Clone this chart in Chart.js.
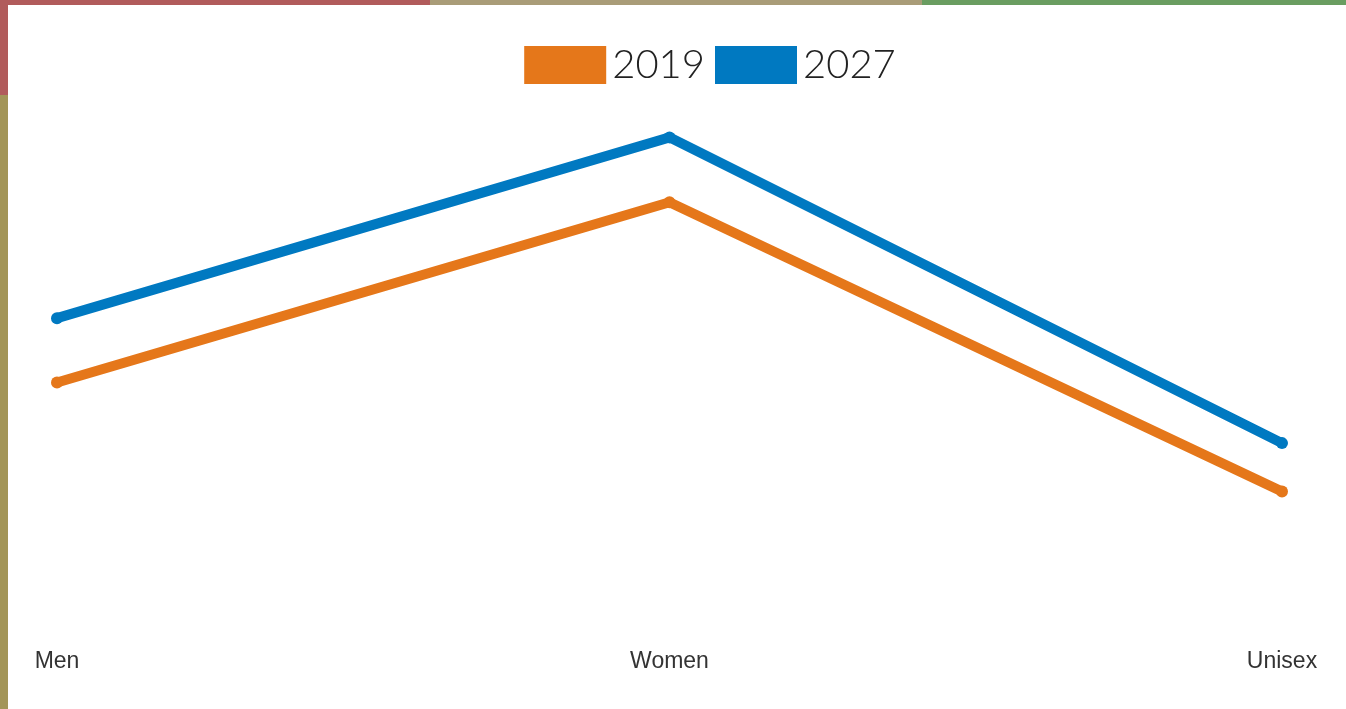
<!DOCTYPE html>
<html>
<head>
<meta charset="utf-8">
<script src="https://cdn.jsdelivr.net/npm/chart.js@4/dist/chart.umd.min.js"></script>
<style>
    body { margin: 0; background: #fff; overflow: hidden; }
    #wrap { position: relative; width: 1346px; height: 709px; }
    .edge { position: absolute; }
</style>
</head>
<body>
<div id="wrap">
    <canvas id="segmentChart" width="1346" height="709"></canvas>
    <!-- coloured frame strips -->
    <div class="edge" style="left:0;top:0;width:430px;height:5px;background:#b15b5b"></div>
    <div class="edge" style="left:430px;top:0;width:492px;height:5px;background:#a99c78"></div>
    <div class="edge" style="left:922px;top:0;width:424px;height:5px;background:#6a9d61"></div>
    <div class="edge" style="left:0;top:0;width:8px;height:95px;background:#b15b5b"></div>
    <div class="edge" style="left:0;top:95px;width:8px;height:614px;background:#a39558"></div>
</div>
<script>
const categories = ["Men", "Women", "Unisex"];
const seriesNames = ["2019", "2027"];
const values2019 = [46.4, 80.0, 26.1];
const values2027 = [58.4, 92.1, 35.1];

// push the legend to the right, like the original
const legendShift = {
    id: "legendShift",
    afterLayout(chart) {
        chart.legend.left += 47.5;
        chart.legend.right += 47.5;
    }
};

const ctx = document.getElementById("segmentChart").getContext("2d");

new Chart(ctx, {
    type: "line",
    data: {
        labels: categories,
        datasets: [{
            label: seriesNames[0],
            data: values2019,
            borderColor: "#e5771a",
            backgroundColor: "#e5771a",
            borderWidth: 10,
            pointRadius: 6,
            pointBorderWidth: 0,
            tension: 0
        }, {
            label: seriesNames[1],
            data: values2027,
            borderColor: "#0079c1",
            backgroundColor: "#0079c1",
            borderWidth: 10,
            pointRadius: 6,
            pointBorderWidth: 0,
            tension: 0
        }]
    },
    options: {
        responsive: false,
        animation: false,
        layout: {
            padding: { left: 57, right: 64, top: 21, bottom: 26 }
        },
        plugins: {
            legend: {
                display: true,
                position: "top",
                labels: {
                    // thick stroke makes the 82x38 boxes sit close to the text
                    boxWidth: 54,
                    boxHeight: 10,
                    padding: 24,
                    color: "#222",
                    font: { family: "Lato", size: 40, weight: "300" },
                    generateLabels(chart) {
                        return Chart.defaults.plugins.legend.labels.generateLabels(chart)
                            .map(item => ({ ...item, lineWidth: 28, lineJoin: "miter" }));
                    }
                }
            },
            tooltip: { enabled: false }
        },
        scales: {
            x: {
                offset: false,
                grid: { display: false },
                border: { display: false },
                ticks: {
                    padding: 8,
                    maxRotation: 0,
                    color: "#333",
                    font: { family: "Liberation Sans", size: 23 }
                }
            },
            y: {
                display: false,
                min: 0,
                max: 100
            }
        }
    },
    plugins: [legendShift]
});
</script>
</body>
</html>
